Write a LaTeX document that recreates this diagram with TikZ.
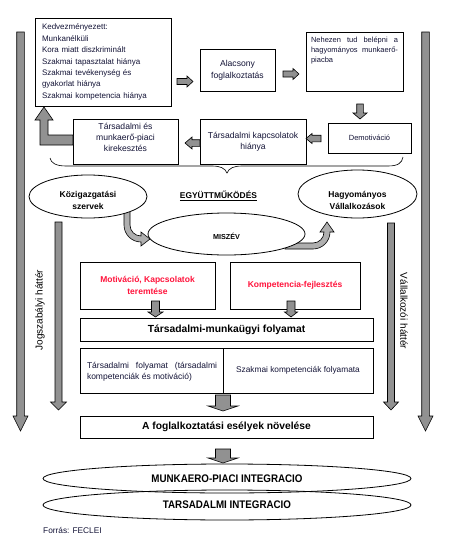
\documentclass[tikz,border=0pt]{standalone}
\usepackage{fontspec}
\setmainfont{Liberation Sans}
\usetikzlibrary{shapes.geometric}
\definecolor{arrowgray}{RGB}{145,145,145}
\definecolor{lightarrow}{RGB}{175,175,175}
\definecolor{txt}{RGB}{20,20,55}
\definecolor{redtxt}{RGB}{255,20,60}
\tikzset{
  box/.style={draw, line width=0.8pt, fill=white, inner sep=0pt},
  oval/.style={draw, ellipse, line width=0.8pt, inner sep=0pt},
  blk/.style={draw, line width=0.6pt, fill=arrowgray, line join=miter},
  curvblk/.style={draw, line width=0.6pt, fill=lightarrow, line join=miter},
  lbl/.style={inner sep=0pt, align=center},
}
\newcommand{\fs}[2]{\fontsize{#1}{#2}\selectfont}
% cx, top, tip, shaft half, head half, head length
\newcommand{\blkdown}[6]{\draw[blk] ({#1-#4},#2) -- ({#1+#4},#2) -- ({#1+#4},{#3-#6}) -- ({#1+#5},{#3-#6}) -- (#1,#3) -- ({#1-#5},{#3-#6}) -- ({#1-#4},{#3-#6}) -- cycle;}
% cy, start x, tip x, shaft half, head half, head length
\newcommand{\blkright}[6]{\draw[blk] (#2,{#1-#4}) -- ({#3-#6},{#1-#4}) -- ({#3-#6},{#1-#5}) -- (#3,#1) -- ({#3-#6},{#1+#5}) -- ({#3-#6},{#1+#4}) -- (#2,{#1+#4}) -- cycle;}
\newcommand{\blkleft}[6]{\draw[blk] (#2,{#1-#4}) -- ({#3+#6},{#1-#4}) -- ({#3+#6},{#1-#5}) -- (#3,#1) -- ({#3+#6},{#1+#5}) -- ({#3+#6},{#1+#4}) -- (#2,{#1+#4}) -- cycle;}
\begin{document}
\begin{tikzpicture}[x=1pt,y=-1pt]
\fill[white] (0,0) rectangle (454,544);
\useasboundingbox (0,0) rectangle (454,544);

% side arrows
\blkdown{20.5}{32}{431}{3.8}{7.5}{15}
\blkdown{425.5}{32}{431}{3.8}{7.5}{15}
\blkdown{58.5}{222}{410}{3.5}{8}{8}
\blkdown{391}{223}{410}{3.5}{7.5}{8}
\node[lbl, rotate=90, font=\fs{10}{12}] (jog) at (40,310) {Jogszabályi háttér};
\node[lbl, rotate=-90, font=\fs{10}{12}] (vall) at (404,311) {Vállalkozói háttér};

% top cycle
\node[box, minimum width=136, minimum height=88, text width=122, align=left, font=\fs{8}{11.4}, text=txt] (b1) at (103,62)
  {Kedvezményezett:\\Munkanélküli\\Kora miatt diszkriminált\\Szakmai tapasztalat hiánya\\Szakmai tevékenység és\\gyakorlat hiánya\\Szakmai kompetencia hiánya};
\node[box, minimum width=75, minimum height=42, align=center, font=\fs{8.6}{12}, text=txt] (b2) at (237.5,70) {Alacsony\\foglalkoztatás};
\node[box, minimum width=97, minimum height=59] (b3) at (354.5,61.5) {};
\node[lbl, text width=87, align=justify, font=\fs{7.5}{10}, text=txt, anchor=north] (b3t) at (354.5,36.5)
  {Nehezen tud belépni a\linebreak hagyományos munkaerő-\linebreak piacba};
\node[box, minimum width=83, minimum height=30, font=\fs{7.5}{9}, text=txt] (b4) at (369.5,138) {Demotiváció};
\node[box, minimum width=106, minimum height=45, align=center, font=\fs{8.6}{11}, text=txt] (b5) at (253,141.5) {Társadalmi kapcsolatok\\hiánya};
\node[box, minimum width=105, minimum height=45] (b6) at (125.5,141.5) {};
\node[lbl, font=\fs{8.6}{11}, text=txt] (b6t) at (125.5,137.5) {Társadalmi és\\munkaerő-piaci\\kirekesztés};

\blkright{81.5}{177}{193}{3}{5.5}{6}
\blkright{74}{283}{299}{3}{5.5}{6}
\blkdown{360}{104}{119}{3.3}{7}{6}
\blkleft{138.5}{321}{306}{3.3}{5}{6}
\blkleft{143}{200}{185}{3.3}{6}{7}
% L-shaped arrow back up to b1
\draw[blk] (73,135) -- (48,135) -- (48,120) -- (53,120) -- (44,107) -- (35,120) -- (40,120) -- (40,145) -- (73,145) -- cycle;

% brace
\draw[line width=0.6pt] (50,158) .. controls (51,163) and (56,166) .. (66,166) -- (212,166)
  .. controls (220,166) and (225,168) .. (227,173) .. controls (229,168) and (234,166) .. (242,166)
  -- (388,166) .. controls (398,166) and (402,163) .. (403,157);

% curved arrows
\draw[curvblk] (124,210) -- (124,225) .. controls (124,234.4) and (131.6,242) .. (141,242) -- (141,246) -- (150,239)
  -- (141,232) -- (141,236) .. controls (134.9,236) and (130,231.1) .. (130,225) -- (130,210) -- cycle;
\draw[curvblk] (285,249) -- (313,249) .. controls (322.4,249) and (330,241.4) .. (330,232) -- (334,232) -- (327,222)
  -- (320,232) -- (324,232) .. controls (324,238.1) and (319.1,243) .. (313,243) -- (285,243) -- cycle;

% cooperation
\node[oval, fill=white, minimum width=118, minimum height=43] (e1) at (88,196.5) {};
\node[lbl, font=\fs{8.5}{12}\bfseries] (e1t) at (88,200) {Közigazgatási\\szervek};
\node[oval, fill=white, minimum width=119, minimum height=48] (e2) at (357.5,194) {};
\node[lbl, font=\fs{8.5}{12}\bfseries] (e2t) at (357.5,200) {Hagyományos\\Vállalkozások};
\node[lbl, font=\fs{8.4}{10}\bfseries] (egy) at (218.5,196) {\underline{EGYÜTTMŰKÖDÉS}};
\node[oval, fill=white, minimum width=157, minimum height=42] (e3) at (226.5,234) {};
\node[lbl, font=\fs{7.2}{9}\bfseries] (e3t) at (226.5,236) {MISZÉV};

% process
\node[box, minimum width=135, minimum height=47, align=center, font=\fs{8.5}{12}\bfseries, text=redtxt] (m1) at (147.5,285.5) {Motiváció, Kapcsolatok\\teremtése};
\node[box, minimum width=130, minimum height=47, font=\fs{8.5}{12}\bfseries, text=redtxt] (m2) at (295,285.5) {Kompetencia-fejlesztés};
\blkdown{155.5}{301}{317}{4}{7.5}{5}
\blkdown{291}{301}{317}{4}{6.5}{5}
\node[box, minimum width=293, minimum height=23, font=\fs{10.3}{12}\bfseries] (p1) at (226.5,329.5) {Társadalmi-munkaügyi folyamat};
\node[box, minimum width=143, minimum height=45] (s1) at (151.5,370.5) {};
\node[lbl, text width=130, align=justify, font=\fs{8.5}{10.7}, text=txt] (s1t) at (152,372)
  {Társadalmi folyamat (társadalmi\linebreak kompetenciák és motiváció)};
\node[box, minimum width=150, minimum height=45, font=\fs{8.3}{10}, text=txt] (s2) at (298,370.5) {Szakmai kompetenciák folyamata};
\blkdown{223}{395}{411}{7.5}{15}{5}
\node[box, minimum width=293, minimum height=22, font=\fs{10.3}{12}\bfseries] (p3) at (226.5,427) {A foglalkoztatási esélyek növelése};
\blkdown{223}{449}{463}{7.5}{15}{5}

% integration
\node[oval, minimum width=368, minimum height=29, font=\fs{11}{12}\bfseries] (i1) at (227,478.5) {\scalebox{0.89}[1]{MUNKAERO-PIACI INTEGRACIO}};
\node[oval, minimum width=368, minimum height=30, font=\fs{11}{12}\bfseries] (i2) at (227,505) {\scalebox{0.89}[1]{TARSADALMI INTEGRACIO}};
\node[lbl, anchor=west, font=\fs{8.3}{10}, text=txt] (src) at (43,530) {Forrás: FECLEI};
\end{tikzpicture}
\end{document}
